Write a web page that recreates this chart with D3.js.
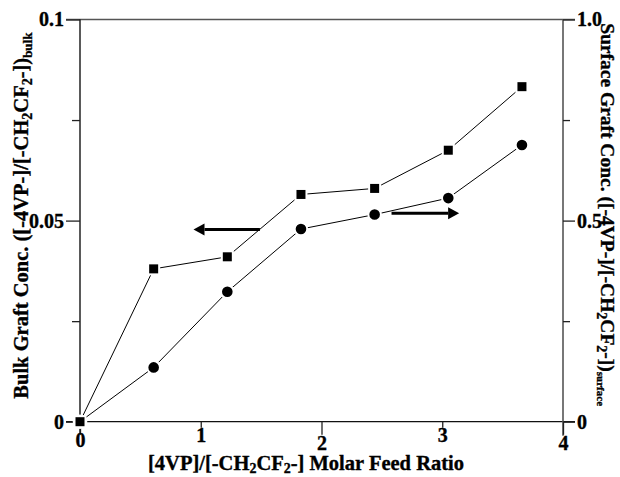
<!DOCTYPE html>
<html>
<head>
<meta charset="utf-8">
<script src="https://cdn.jsdelivr.net/npm/d3@7"></script>
<style>
  body { margin: 0; background: #fff; }
  svg text { font-family: "Liberation Serif", "Times New Roman", serif; font-weight: 700; stroke: #000; stroke-width: 0.35px; }
</style>
</head>
<body>
<div id="chart"></div>
<script>
// Data
var feedRatio = [0, 0.61, 1.22, 1.83, 2.44, 3.05, 3.66];
var bulkConc = [0, 0.038, 0.041, 0.0565, 0.058, 0.0675, 0.0833];
var surfaceConc = [0, 0.135, 0.323, 0.479, 0.515, 0.556, 0.688];

var xTicks = [0, 1, 2, 3, 4];
var leftTicks = [0, 0.05, 0.1];
var leftTickLabels = ["0", "0.05", "0.1"];
var leftMinor = [0.025, 0.075];
var rightTicks = [0, 0.5, 1.0];
var rightTickLabels = ["0", "0.5", "1.0"];
var rightMinor = [0.25, 0.75];

// arrows: which axis they point to, from x to x, at y
var arrowFromX = [1.49, 2.58];
var arrowToX = [0.94, 3.14];
var arrowY = [0.0478, 0.518];
var arrowAxis = ["left", "right"];

var W = 620, H = 477;
var margin = { top: 19.5, right: 57, bottom: 55.3, left: 80 },
    width = W - margin.left - margin.right,
    height = H - margin.top - margin.bottom;

var svg = d3.select("#chart")
    .append("svg")
    .attr("width", W)
    .attr("height", H)
    .append("g")
    .attr("transform", "translate(" + margin.left + "," + margin.top + ")");

var x = d3.scaleLinear().domain([0, 4]).range([0, width]);
var yL = d3.scaleLinear().domain([0, 0.1]).range([height, 0]);
var yR = d3.scaleLinear().domain([0, 1]).range([height, 0]);

// frame lines
svg.append("line")
    .attr("x1", -14).attr("x2", width + 12)
    .attr("y1", 0).attr("y2", 0)
    .attr("stroke", "#555").attr("stroke-width", 1.6);
svg.append("line")
    .attr("x1", -14).attr("x2", width + 12)
    .attr("y1", height).attr("y2", height)
    .attr("stroke", "#111").attr("stroke-width", 1.3);
svg.append("line")
    .attr("x1", 0).attr("x2", 0)
    .attr("y1", 0).attr("y2", height + 12)
    .attr("stroke", "#000").attr("stroke-width", 1.3);
svg.append("line")
    .attr("x1", width).attr("x2", width)
    .attr("y1", 0).attr("y2", height + 14)
    .attr("stroke", "#555").attr("stroke-width", 1.6);

// left axis
svg.append("g")
    .call(d3.axisLeft(yL).tickValues(leftTicks).tickSize(14).tickPadding(2)
        .tickFormat(function (d, i) { return leftTickLabels[i]; }));
svg.append("g")
    .call(d3.axisLeft(yL).tickValues(leftMinor).tickSize(8).tickFormat(""));

// right axis
svg.append("g")
    .attr("transform", "translate(" + width + ",0)")
    .call(d3.axisRight(yR).tickValues(rightTicks).tickSize(12).tickPadding(2)
        .tickFormat(function (d, i) { return rightTickLabels[i]; }));
svg.append("g")
    .attr("transform", "translate(" + width + ",0)")
    .call(d3.axisRight(yR).tickValues(rightMinor).tickSize(7).tickFormat(""));

// bottom axis, staggered ticks
var bottomAxis = svg.append("g")
    .attr("transform", "translate(0," + height + ")")
    .call(d3.axisBottom(x).tickValues(xTicks).tickSize(6).tickFormat(d3.format("d")));
bottomAxis.selectAll(".tick line")
    .attr("y2", function (d, i) { return i % 2 == 0 ? 13 : 6; });
bottomAxis.selectAll(".tick text")
    .attr("y", function (d, i) { return i == 0 ? 11 : (i % 2 == 0 ? 14 : 6); });

svg.selectAll(".domain").remove();
svg.selectAll(".tick line").attr("stroke", "#222").attr("stroke-width", 1.3);
svg.selectAll(".tick text")
    .attr("font-size", 20)
    .attr("font-family", "Liberation Serif")
    .attr("font-weight", "bold")
    .attr("fill", "#000");

// lines
var bulkPts = feedRatio.map(function (d, i) { return [d, bulkConc[i]]; });
var surfPts = feedRatio.map(function (d, i) { return [d, surfaceConc[i]]; });

svg.append("path")
    .datum(surfPts)
    .attr("fill", "none")
    .attr("stroke", "#000")
    .attr("stroke-width", 1)
    .attr("d", d3.line()
        .x(function (d) { return x(d[0]) })
        .y(function (d) { return yR(d[1]) }));

svg.append("path")
    .datum(bulkPts)
    .attr("fill", "none")
    .attr("stroke", "#000")
    .attr("stroke-width", 1)
    .attr("d", d3.line()
        .x(function (d) { return x(d[0]) })
        .y(function (d) { return yL(d[1]) }));

// markers (white halo leaves a gap before the lines)
svg.selectAll(".circ")
    .data(surfPts)
    .enter().append("circle")
    .attr("class", "circ")
    .attr("cx", function (d) { return x(d[0]) })
    .attr("cy", function (d) { return yR(d[1]) })
    .attr("r", 6.3)
    .attr("fill", "#000")
    .attr("stroke", "#fff")
    .attr("stroke-width", 2);

var sq = 11;
svg.selectAll(".sq")
    .data(bulkPts)
    .enter().append("rect")
    .attr("class", "sq")
    .attr("x", function (d) { return x(d[0]) - sq / 2 })
    .attr("y", function (d) { return yL(d[1]) - sq / 2 })
    .attr("width", sq)
    .attr("height", sq)
    .attr("fill", "#000")
    .attr("stroke", "#fff")
    .attr("stroke-width", 2);

// arrows
arrowFromX.forEach(function (fx, i) {
    var yy = arrowAxis[i] == "left" ? yL(arrowY[i]) : yR(arrowY[i]);
    var x0 = x(fx), x1 = x(arrowToX[i]);
    var dir = x1 > x0 ? 1 : -1;
    var headLen = 11;
    svg.append("line")
        .attr("x1", x0).attr("x2", x1 - dir * headLen)
        .attr("y1", yy).attr("y2", yy)
        .attr("stroke", "#000").attr("stroke-width", 3);
    svg.append("path")
        .attr("d", "M" + x1 + "," + yy +
            "L" + (x1 - dir * headLen) + "," + (yy - 6) +
            "L" + (x1 - dir * headLen) + "," + (yy + 6) + "Z")
        .attr("fill", "#000");
});

// axis titles, subscripts done with dy shifts
function subTitle(sel, parts, shift) {
    var shifted = 0;
    parts.forEach(function (p) {
        var t = sel.append("tspan").text(p[0]);
        if (p[1]) {
            t.attr("font-size", p[1]).attr("dy", shift - shifted);
            shifted = shift;
        } else if (shifted) {
            t.attr("dy", -shifted);
            shifted = 0;
        }
    });
}

var xTitle = svg.append("text")
    .attr("x", 226)
    .attr("y", height + 48)
    .attr("text-anchor", "middle")
    .attr("font-size", 20.5);
subTitle(xTitle, [["[4VP]/[-CH"], ["2", 14], ["CF"], ["2", 14], ["-] Molar Feed Ratio"]], 3);

var lTitle = svg.append("text")
    .attr("transform", "translate(-52," + (height / 2 - 5) + ") rotate(-90)")
    .attr("text-anchor", "middle")
    .attr("font-size", 20.5);
subTitle(lTitle, [["Bulk Graft Conc. ([-4VP-]/[-CH"], ["2", 14], ["CF"], ["2", 14], ["-])"], ["bulk", 13]], 4);

var rTitle = svg.append("text")
    .attr("transform", "translate(" + (width + 38) + "," + (height / 2 - 6) + ") rotate(90)")
    .attr("text-anchor", "middle")
    .attr("font-size", 19.5);
subTitle(rTitle, [["Surface Graft Conc. ([-4VP-]/[-CH"], ["2", 14], ["CF"], ["2", 14], ["-])"], ["surface", 11]], 4);
</script>
</body>
</html>
